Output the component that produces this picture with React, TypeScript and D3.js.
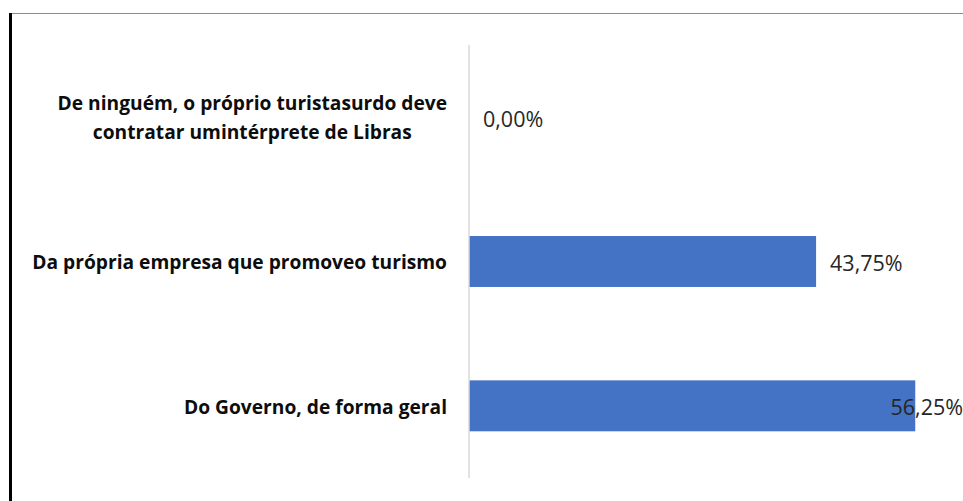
import React, { useEffect, useRef } from "react";
import * as d3 from "d3";

const categoryLines: string[][] = [
  ["De ninguém, o próprio turistasurdo deve", "contratar umintérprete de Libras"],
  ["Da própria empresa que promoveo turismo"],
  ["Do Governo, de forma geral"],
];
const values: number[] = [0, 0.4375, 0.5625];
const axisMax = 0.6;

const W = 963;
const H = 501;

const locale = d3.formatLocale({ decimal: ",", thousands: ".", grouping: [3], currency: ["", ""] });
const fmt = locale.format(".2%");

export default function App() {
  const ref = useRef<SVGSVGElement>(null);

  useEffect(() => {
    const svg = d3.select(ref.current);
    svg.selectAll("*").remove();

    const x = d3.scaleLinear().domain([0, axisMax]).range([469, 945]);
    const y = d3
      .scaleBand<number>()
      .domain(values.map((_, i) => i))
      .range([45, 478])
      .paddingInner(0.647)
      .paddingOuter(0.3235);

    svg.append("rect").attr("width", W).attr("height", H).attr("fill", "#ffffff");

    // frame
    svg.append("line").attr("x1", 12).attr("x2", W).attr("y1", 13.5).attr("y2", 13.5)
      .attr("stroke", "#8c8c8c").attr("stroke-width", 1);
    svg.append("line").attr("x1", 10.5).attr("x2", 10.5).attr("y1", 13).attr("y2", H)
      .attr("stroke", "#000000").attr("stroke-width", 3);

    // bars
    svg.append("g").selectAll("rect").data(values).join("rect")
      .attr("x", x(0))
      .attr("y", (_, i) => y(i)!)
      .attr("width", (d) => x(d) - x(0))
      .attr("height", y.bandwidth())
      .attr("fill", "#4472C4");

    // axis line
    svg.append("line").attr("x1", x(0)).attr("x2", x(0)).attr("y1", 45).attr("y2", 478)
      .attr("stroke", "#d9d9d9").attr("stroke-width", 1.5);

    // category labels
    const labelRight = 447;
    const lineH = 29;
    categoryLines.forEach((lines, i) => {
      const cy = y(i)! + y.bandwidth() / 2;
      const g = svg.append("g");
      const texts = lines.map((t, j) =>
        g.append("text")
          .attr("y", cy + (j - (lines.length - 1) / 2) * lineH + 1)
          .attr("dy", "0.35em")
          .attr("font-family", "'Open Sans', sans-serif")
          .attr("font-weight", 700)
          .attr("font-size", 19.2)
          .attr("fill", "#0d0d0d")
          .attr("text-anchor", "middle")
          .text(t)
      );
      const maxW = d3.max(texts, (t) => (t.node() as SVGTextElement).getComputedTextLength()) || 0;
      texts.forEach((t) => t.attr("x", labelRight - maxW / 2));
    });

    // value labels
    values.forEach((v, i) => {
      const cy = y(i)! + y.bandwidth() / 2;
      const t = svg.append("text")
        .attr("y", cy + 2)
        .attr("dy", "0.35em")
        .attr("font-family", "'Open Sans', sans-serif")
        .attr("font-size", 21.5)
        .attr("fill", "#262626")
        .text(fmt(v));
      const w = (t.node() as SVGTextElement).getComputedTextLength();
      let tx = x(v) + 14;
      if (tx + w > W) tx = W - w;
      t.attr("x", tx);
    });
  }, []);

  return (
    <div style={{ position: "fixed", left: 0, top: 0 }}>
      <svg ref={ref} width={W} height={H} style={{ display: "block" }} />
    </div>
  );
}
